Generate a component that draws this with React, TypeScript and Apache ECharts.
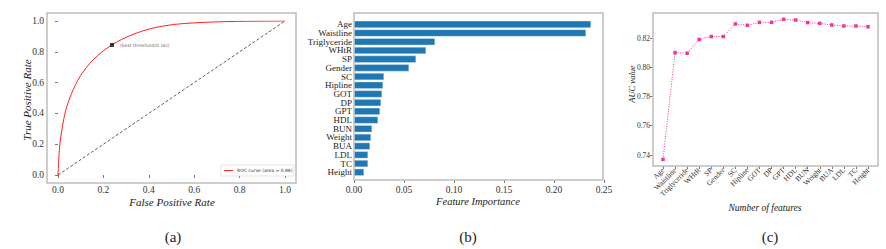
import React, { useEffect, useRef } from "react";
import * as echarts from "echarts";

// ---- Panel (a): ROC curve ----
const rocFpr = [0, 0.002, 0.004, 0.009, 0.019, 0.034, 0.06, 0.097, 0.156, 0.236, 0.325, 0.413, 0.508, 0.626, 0.771, 1.0];
const rocTpr = [0, 0.06, 0.12, 0.21, 0.31, 0.42, 0.53, 0.64, 0.75, 0.844, 0.91, 0.952, 0.977, 0.99, 0.997, 1.0];
const bestPoint = [0.238, 0.844];
const bestLabel = "(best threshold(0.16))";
const rocLegend = "ROC curve (area = 0.88)";

// ---- Panel (b): feature importance ----
const features = ["Age", "Waistline", "Triglyceride", "WHtR", "SP", "Gender", "SC", "Hipline", "GOT", "DP", "GPT", "HDL", "BUN", "Weight", "BUA", "LDL", "TC", "Height"];
const importance = [0.237, 0.232, 0.081, 0.072, 0.062, 0.055, 0.030, 0.029, 0.028, 0.027, 0.026, 0.024, 0.018, 0.017, 0.016, 0.014, 0.014, 0.010];

// ---- Panel (c): AUC vs number of features ----
const aucValues = [0.737, 0.810, 0.8096, 0.819, 0.821, 0.821, 0.8296, 0.8287, 0.8307, 0.8307, 0.8328, 0.8323, 0.8305, 0.830, 0.8289, 0.8282, 0.8282, 0.8277];

const SERIF = "'Liberation Serif', 'Times New Roman', serif";
const SANS = "'DejaVu Sans', sans-serif";
const FRAME = "#bdbdbd";

export default function App() {
  const ref = useRef<HTMLDivElement>(null);
  useEffect(() => {
    document.body.style.margin = "0";
    if (!ref.current) return;
    const chart = echarts.init(ref.current, null, { renderer: "svg" });
    const tick = { show: true, length: 3, lineStyle: { color: "#555", width: 0.8 } };
    const txt = (x: number, y: number, text: string, size: number, opts: any = {}) => ({
      type: "text",
      z: 100,
      x,
      y,
      rotation: opts.rotation || 0,
      style: {
        text,
        fontFamily: opts.font || SERIF,
        fontSize: size,
        fontStyle: opts.italic ? "italic" : "normal",
        fill: opts.fill || "#222",
        align: opts.align || "center",
        verticalAlign: "middle",
      },
      silent: true,
    });
    const frameGrid = (left: number, top: number, width: number, height: number) => ({
      left, top, width, height, show: true, borderColor: FRAME, borderWidth: 1.5, backgroundColor: "transparent", z: 10,
    });
    const hiddenAxis = (gridIndex: number) => ({ gridIndex, type: "value", show: false, min: 0, max: 1 });
    const rocData = rocFpr.map((x, i) => [x, rocTpr[i]]);
    chart.setOption({
      animation: false,
      grid: [
        { left: 58, top: 21, width: 227, height: 154 },
        { left: 354, top: 20, width: 250, height: 156.6 },
        { left: 663, top: 38, width: 205, height: 117 },
        frameGrid(47, 13, 249, 170),
        frameGrid(354, 13, 249, 167),
        frameGrid(653, 13, 225, 153),
      ],
      xAxis: [
        {
          gridIndex: 0, type: "value", min: 0, max: 1, interval: 0.2, offset: 8,
          axisLine: { show: false }, axisTick: tick, splitLine: { show: false },
          axisLabel: { fontFamily: SERIF, fontSize: 9.5, color: "#333", margin: 2, formatter: (v: number) => v.toFixed(1) },
        },
        {
          gridIndex: 1, type: "value", min: 0, max: 0.25, interval: 0.05, offset: 3.4,
          axisLine: { show: false }, axisTick: tick, splitLine: { show: false },
          axisLabel: { fontFamily: SERIF, fontSize: 9.5, color: "#333", margin: 5, formatter: (v: number) => v.toFixed(2) },
        },
        {
          gridIndex: 2, type: "category", data: features, boundaryGap: false, offset: 11,
          axisLine: { show: false }, axisTick: { ...tick, interval: 0 }, splitLine: { show: false },
          axisLabel: { fontFamily: SERIF, fontSize: 7.5, color: "#333", margin: 3, rotate: 45, interval: 0 },
        },
        hiddenAxis(3), hiddenAxis(4), hiddenAxis(5),
      ],
      yAxis: [
        {
          gridIndex: 0, type: "value", min: 0, max: 1, interval: 0.2, offset: 11,
          axisLine: { show: false }, axisTick: tick, splitLine: { show: false },
          axisLabel: { fontFamily: SERIF, fontSize: 9.5, color: "#333", margin: 3, formatter: (v: number) => v.toFixed(1) },
        },
        {
          gridIndex: 1, type: "category", data: features, inverse: true,
          axisLine: { show: false }, axisTick: { show: false }, splitLine: { show: false },
          axisLabel: { fontFamily: SERIF, fontSize: 9, color: "#222", margin: 2, interval: 0 },
        },
        {
          gridIndex: 2, type: "value", min: 0.74, max: 0.82, interval: 0.02, offset: 10,
          axisLine: { show: false }, axisTick: tick, splitLine: { show: false },
          axisLabel: { fontFamily: SERIF, fontSize: 7.5, color: "#333", margin: 3, formatter: (v: number) => v.toFixed(2) },
        },
        hiddenAxis(3), hiddenAxis(4), hiddenAxis(5),
      ],
      series: [
        {
          type: "line", name: "diag", xAxisIndex: 0, yAxisIndex: 0,
          data: [[0, 0], [1, 1]], showSymbol: false,
          lineStyle: { color: "#333", width: 0.8, type: [3, 2] }, z: 2,
        },
        {
          type: "line", name: rocLegend, xAxisIndex: 0, yAxisIndex: 0,
          data: rocData, smooth: 0.3, showSymbol: false,
          itemStyle: { color: "#ff2020" },
          lineStyle: { color: "#ff2020", width: 1 }, z: 3,
        },
        {
          type: "scatter", name: "best", xAxisIndex: 0, yAxisIndex: 0,
          data: [bestPoint], symbol: "rect", symbolSize: 4,
          itemStyle: { color: "#111" }, z: 4,
          label: { show: true, position: "right", distance: 6, formatter: bestLabel, fontSize: 4.5, color: "#333", fontFamily: SANS },
        },
        {
          type: "bar", xAxisIndex: 1, yAxisIndex: 1, data: importance, barWidth: 7,
          itemStyle: { color: "#1f77b4", borderColor: "#e8eef5", borderWidth: 0.4 },
        },
        {
          type: "line", xAxisIndex: 2, yAxisIndex: 2, data: aucValues, clip: false,
          symbol: "rect", symbolSize: 3.5,
          itemStyle: { color: "#f5359b" },
          lineStyle: { color: "#f5359b", width: 1, type: [1, 1.5] },
        },
      ],
      graphic: {
        elements: [
          {
            type: "rect", z: 100, silent: true,
            shape: { x: 221, y: 165, width: 73, height: 11, r: 1 },
            style: { fill: "#ffffff", stroke: "#d0d0d0", lineWidth: 0.6 },
          },
          {
            type: "line", z: 101, silent: true,
            shape: { x1: 224, y1: 170.5, x2: 233, y2: 170.5 },
            style: { stroke: "#ff2020", lineWidth: 1 },
          },
          txt(237, 170.5, rocLegend, 4.5, { font: SANS, align: "left", fill: "#333" }),
          txt(172, 202, "False Positive Rate", 11, { italic: true }),
          txt(27, 100, "True Positive Rate", 11, { italic: true, rotation: Math.PI / 2 }),
          txt(478, 201, "Feature Importance", 10.5, { italic: true }),
          txt(765, 208, "Number of features", 9.5, { italic: true }),
          txt(632, 84, "AUC value", 8.5, { italic: true, rotation: Math.PI / 2 }),
          txt(173, 237, "(a)", 15),
          txt(468, 237, "(b)", 15),
          txt(770, 237, "(c)", 15),
        ],
      },
    });
    return () => chart.dispose();
  }, []);
  return <div ref={ref} style={{ width: 886, height: 249, background: "#fff" }} />;
}
